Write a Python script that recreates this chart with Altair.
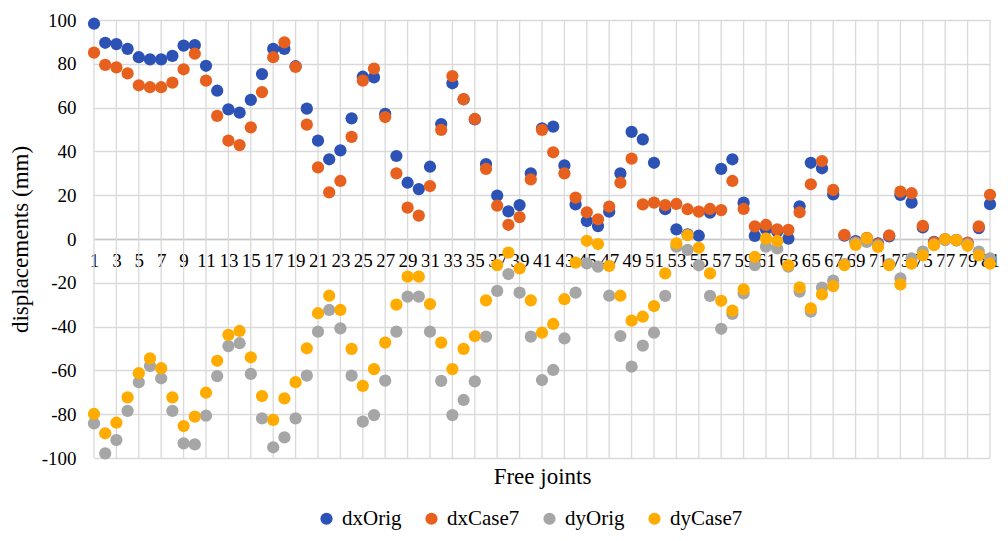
import altair as alt
import pandas as pd

joints = list(range(1, 82))

dx_orig = [98.3, 89.6, 89.0, 86.8, 83.0, 82.0, 82.0, 83.6, 88.3, 88.5,
           79.1, 67.7, 59.2, 57.7, 63.5, 75.3, 86.8, 86.8, 78.9, 59.5,
           44.9, 36.4, 40.5, 55.1, 74.1, 73.8, 57.1, 37.9, 25.7, 22.8,
           33.0, 52.5, 71.1, 63.8, 54.6, 34.2, 19.8, 12.6, 15.5, 30.0,
           50.5, 51.3, 33.6, 15.8, 8.2, 5.9, 12.5, 30.0, 48.9, 45.5,
           34.8, 13.6, 4.4, 2.1, 1.5, 12.0, 32.0, 36.4, 16.6, 1.4,
           4.5, 3.5, 0.2, 14.9, 34.8, 32.3, 20.4, 1.5, -1.0, 0.0,
           -2.0, 1.2, 20.1, 16.6, 5.3, -1.3, -0.2, -0.5, -1.8, 5.0,
           15.9]

dx_case7 = [85.1, 79.5, 78.4, 75.6, 70.2, 69.3, 69.3, 71.4, 77.5, 84.6,
            72.3, 56.2, 44.9, 42.9, 51.0, 67.1, 83.0, 89.8, 78.6, 52.2,
            32.7, 21.3, 26.5, 46.6, 72.3, 77.8, 55.7, 30.0, 14.3, 10.7,
            24.2, 49.8, 74.4, 63.9, 54.8, 32.0, 15.2, 6.5, 10.0, 27.2,
            49.8, 39.6, 30.0, 18.9, 12.2, 9.0, 14.8, 25.7, 36.7, 15.8,
            16.6, 15.5, 16.0, 13.6, 12.5, 13.7, 13.2, 26.5, 13.7, 5.8,
            6.4, 4.4, 4.2, 12.2, 25.0, 35.6, 22.4, 1.9, -1.5, 0.5,
            -2.3, 1.7, 21.6, 20.9, 6.0, -1.5, -0.2, -0.5, -1.7, 5.8,
            20.2]

dy_orig = [-84.2, -97.9, -91.8, -78.5, -65.4, -58.0, -63.6, -78.5, -93.3, -93.8,
           -80.7, -62.6, -48.9, -47.6, -61.6, -81.9, -95.1, -90.6, -81.9, -62.4,
           -42.3, -32.4, -40.8, -62.4, -83.4, -80.4, -64.7, -42.3, -26.3, -26.3,
           -42.3, -64.8, -80.4, -73.5, -65.0, -44.6, -23.7, -16.0, -24.5, -44.6,
           -64.4, -59.8, -45.4, -24.5, -11.1, -12.6, -25.9, -44.3, -58.3, -48.7,
           -42.8, -26.0, -3.5, -5.0, -12.0, -26.0, -41.0, -34.2, -24.8, -11.9,
           -3.5, -4.3, -12.6, -24.0, -33.2, -22.2, -19.0, -11.5, -1.8, -1.3,
           -3.0, -11.5, -18.0, -8.8, -5.8, -2.5, -0.5, -0.7, -2.5, -5.8,
           -8.8]

dy_case7 = [-79.9, -88.7, -83.9, -72.3, -61.3, -54.5, -59.0, -72.3, -85.4, -81.1,
            -70.2, -55.6, -43.8, -42.0, -54.0, -71.7, -82.6, -72.8, -65.4, -49.9,
            -33.9, -25.9, -32.4, -50.2, -67.1, -59.4, -47.3, -30.0, -17.2, -17.2,
            -29.7, -47.3, -59.4, -50.2, -44.3, -28.0, -11.9, -6.2, -13.4, -28.0,
            -42.8, -38.8, -27.5, -10.8, -0.8, -2.3, -12.3, -25.9, -37.3, -35.5,
            -30.6, -15.7, -2.0, 1.8, -4.0, -15.7, -28.2, -32.7, -23.0, -8.2,
            0.2, -0.9, -12.0, -22.1, -31.7, -25.3, -21.5, -11.9, -2.7, 0.3,
            -3.6, -11.9, -20.7, -11.3, -7.5, -2.8, -0.1, -0.5, -3.1, -7.5,
            -11.3]

series_names = ["dxOrig", "dxCase7", "dyOrig", "dyCase7"]
series_colors = ["#2B52B4", "#E8601E", "#A6A6A6", "#FFAB00"]
x_ticks = list(range(1, 82, 2))
y_ticks = list(range(-100, 101, 20))

rows = []
for name, vals in zip(series_names, [dx_orig, dx_case7, dy_orig, dy_case7]):
    for j, v in zip(joints, vals):
        rows.append({"joint": j, "value": v, "series": name})
df = pd.DataFrame(rows)
grid_df = pd.DataFrame({"joint": x_ticks})

FONT = "Liberation Serif, Times New Roman, DejaVu Serif, serif"
GRID = "#d9d9d9"
W, H = 896, 438

xscale = alt.Scale(domain=[1, 81], nice=False, zero=False)
yscale = alt.Scale(domain=[-100, 100], nice=False, zero=False)

x_axis = alt.Axis(
    values=x_ticks, format="d", orient="bottom", offset=-H / 2,
    grid=False, ticks=False, tickSize=0,
    domain=True, domainColor="#c8c8c8", domainWidth=1.3,
    labelFont=FONT, labelFontSize=19, labelColor="black",
    labelPadding=12, labelOverlap=False, labelFlush=False,
    title="Free joints", titleFont=FONT, titleFontSize=23,
    titleFontWeight="normal", titleColor="black",
    titleY=H / 2 + 18, titleBaseline="middle",
)

vgrid = alt.Chart(grid_df).mark_rule(color=GRID, strokeWidth=1.3).encode(
    x=alt.X("joint:Q", scale=xscale, axis=x_axis)
)

points = alt.Chart(df).mark_circle(size=150, opacity=1).encode(
    x=alt.X("joint:Q", scale=xscale, axis=x_axis),
    y=alt.Y(
        "value:Q", scale=yscale,
        axis=alt.Axis(
            values=y_ticks, grid=True, gridColor=GRID, gridWidth=1.3,
            domain=False, ticks=False, tickSize=0,
            labelFont=FONT, labelFontSize=19, labelColor="black",
            labelPadding=18, labelExpr="'' + datum.value",
            title="displacements (mm)", titleFont=FONT, titleFontSize=23,
            titleFontWeight="normal", titleColor="black",
            titleX=-74, titleY=H / 2, titleAngle=-90,
            titleBaseline="middle", titleAlign="center",
        ),
    ),
    color=alt.Color(
        "series:N",
        scale=alt.Scale(domain=series_names, range=series_colors),
        sort=series_names,
        legend=alt.Legend(
            orient="none", legendX=222, legendY=488, direction="horizontal",
            title=None, symbolType="circle", symbolSize=150,
            symbolOpacity=1, symbolStrokeWidth=0,
            labelFont=FONT, labelFontSize=21, labelColor="black",
            columnPadding=19, labelOffset=5, padding=0,
        ),
    ),
)

chart = alt.layer(vgrid, points).properties(
    width=W, height=H,
    autosize=alt.AutoSizeParams(type="none"),
    padding={"left": 86, "top": 12, "right": 10, "bottom": 75},
    background="white",
).configure_view(stroke=None)

chart.save("out.html", embed_options={"renderer": "svg", "actions": False})
